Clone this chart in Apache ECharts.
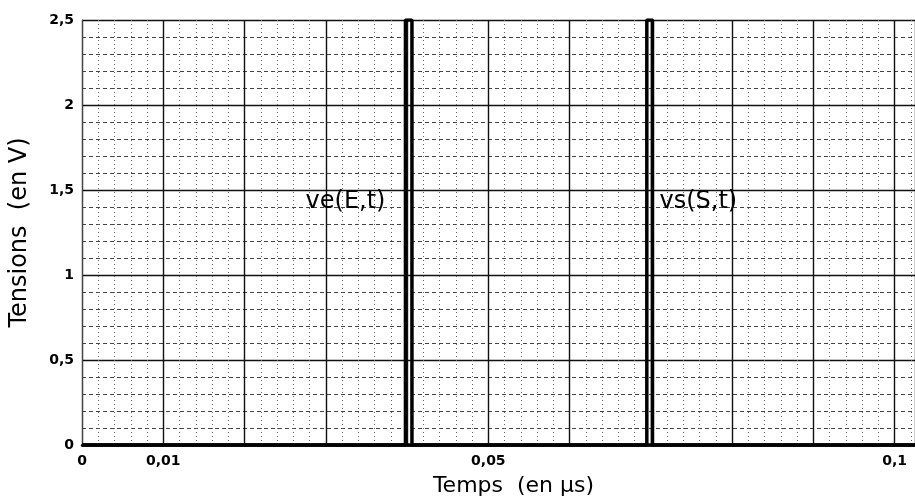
<!DOCTYPE html>
<html>
<head>
<meta charset="utf-8">
<script src="https://cdn.jsdelivr.net/npm/echarts@6/dist/echarts.min.js"></script>
<style>
	html, body { margin: 0; padding: 0; background: #fff; }
	#chart { width: 915px; height: 502px; }
</style>
</head>
<body>
<div id="chart"></div>
<script>
const veTime = [0, 0.0398, 0.0398, 0.0406, 0.0406, 0.1025];
const veValue = [0, 0, 2.5, 2.5, 0, 0];
const vsTime = [0, 0.0695, 0.0695, 0.0702, 0.0702, 0.1025];
const vsValue = [0, 0, 2.5, 2.5, 0, 0];
const xTickValues = [0, 0.01, 0.05, 0.1];
const xTickLabels = ['0', '0,01', '0,05', '0,1'];
const veLabel = { name: 've(E,t)', coord: [0.0398, 1.43] };
const vsLabel = { name: 'vs(S,t)', coord: [0.0702, 1.43] };

function pairs(xs, ys) {
	let out = [];
	for (let i = 0; i < xs.length; i++) {
		out.push([xs[i], ys[i]]);
	}
	return out;
}

let myChart = echarts.init(document.getElementById('chart'));
let labelFont = { fontFamily: 'DejaVu Sans', fontSize: 14, fontWeight: 'bold', color: '#000' };

let options = {
	animation: false,
	backgroundColor: '#fff',
	grid: { left: 82, right: 0, top: 20, bottom: 56 },
	xAxis: {
		type: 'value',
		min: 0,
		max: 0.1025,
		interval: 0.01,
		name: 'Temps  (en µs)',
		nameLocation: 'middle',
		nameGap: 30,
		nameTextStyle: { fontFamily: 'DejaVu Sans', fontSize: 22, color: '#000', padding: [0, 0, 0, 30] },
		axisLine: { show: true, lineStyle: { color: '#000', width: 2.5 } },
		axisTick: { show: false },
		axisLabel: Object.assign({
			margin: 9,
			showMaxLabel: false,
			formatter: function (v) {
				for (let i = 0; i < xTickValues.length; i++) {
					if (Math.abs(v - xTickValues[i]) < 1e-6) return xTickLabels[i];
				}
				return '';
			}
		}, labelFont),
		splitLine: { show: true, lineStyle: { color: '#111', width: 1.4 } },
		minorTick: { show: false, splitNumber: 5 },
		minorSplitLine: { show: true, lineStyle: { color: '#666', width: 1, type: [1, 3] } }
	},
	yAxis: {
		type: 'value',
		min: 0,
		max: 2.5,
		interval: 0.5,
		name: 'Tensions  (en V)',
		nameLocation: 'middle',
		nameGap: 50,
		nameRotate: 90,
		nameTextStyle: { fontFamily: 'DejaVu Sans', fontSize: 24, color: '#000' },
		axisLine: { show: true, lineStyle: { color: '#444', width: 1 } },
		axisTick: { show: false },
		axisLabel: Object.assign({
			margin: 8,
			formatter: function (v) { return String(v).replace('.', ','); }
		}, labelFont),
		splitLine: { show: true, lineStyle: { color: '#111', width: 1.4 } },
		minorTick: { show: false, splitNumber: 5 },
		minorSplitLine: { show: true, lineStyle: { color: '#444', width: 1, type: [4, 3] } }
	},
	series: [
		{
			name: 've(E,t)',
			type: 'line',
			data: pairs(veTime, veValue),
			symbol: 'none',
			clip: true,
			lineStyle: { color: '#000', width: 3.5 },
			markPoint: {
				symbolSize: 0,
				label: { show: true, position: 'left', distance: 20, formatter: veLabel.name, fontFamily: 'DejaVu Sans', fontSize: 24, color: '#000' },
				data: [{ coord: veLabel.coord }]
			}
		},
		{
			name: 'vs(S,t)',
			type: 'line',
			data: pairs(vsTime, vsValue),
			symbol: 'none',
			clip: true,
			lineStyle: { color: '#000', width: 3.5 },
			markPoint: {
				symbolSize: 0,
				label: { show: true, position: 'right', distance: 7, formatter: vsLabel.name, fontFamily: 'DejaVu Sans', fontSize: 24, color: '#000' },
				data: [{ coord: vsLabel.coord }]
			}
		}
	]
};
myChart.setOption(options, true);
</script>
</body>
</html>
